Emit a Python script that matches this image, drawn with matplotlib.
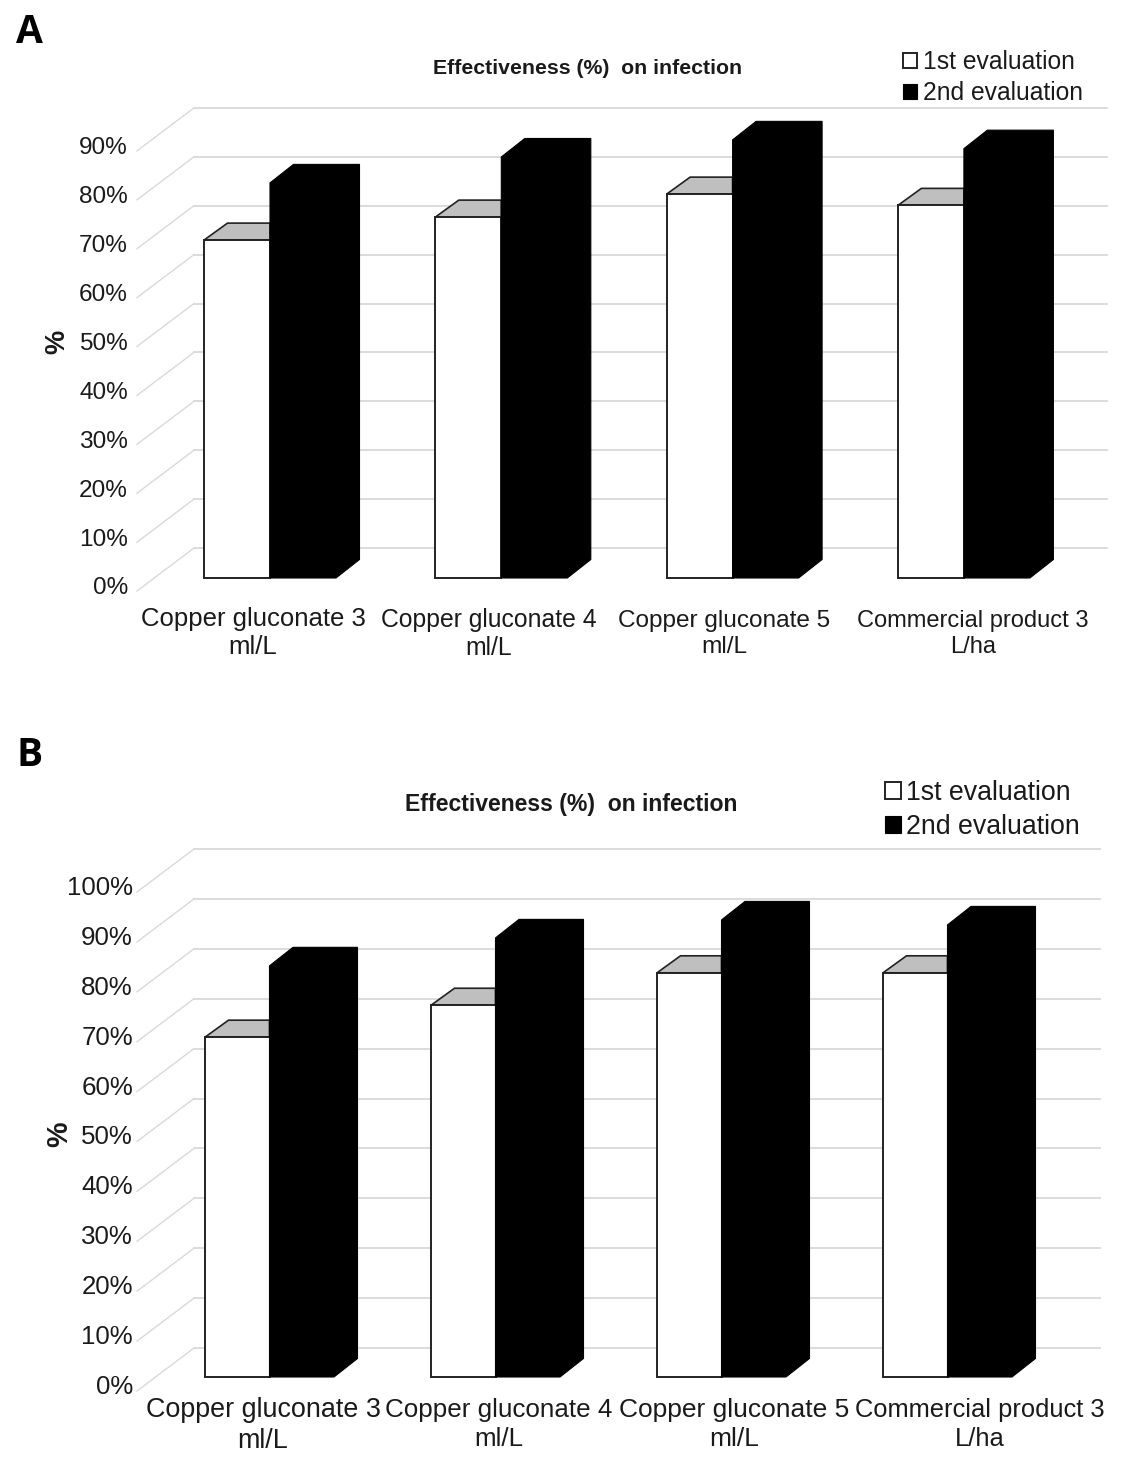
import matplotlib
matplotlib.use("Agg")
import matplotlib.pyplot as plt
from matplotlib.patches import Patch, Polygon
from matplotlib.transforms import ScaledTranslation

plt.rcParams['font.family'] = ['Liberation Sans', 'DejaVu Sans']

W, H, DPI = 1144, 1458, 100

categories = ["Copper gluconate 3\nml/L", "Copper gluconate 4\nml/L",
              "Copper gluconate 5\nml/L", "Commercial product 3\nL/ha"]
series_names = ["1st evaluation", "2nd evaluation"]
title_text = "Effectiveness (%)  on infection"

a_first = [69.1, 73.8, 78.5, 76.2]
a_second = [80.8, 86.1, 89.6, 87.8]
a_ticks = [0, 10, 20, 30, 40, 50, 60, 70, 80, 90]

b_first = [68.1, 74.5, 81.0, 81.0]
b_second = [82.4, 88.0, 91.6, 90.6]
b_ticks = [0, 10, 20, 30, 40, 50, 60, 70, 80, 90, 100]


def panel(letter, letter_xy, first, second, ticks, base, unit, x0, spacing, bw,
          wall, grid_right, fs_tick, fs_cat, fs_leg, fs_title, title_xy, ylabel_xy,
          label_px, label_y, label_nudge, label_ls, legend_xy, legend_gap, left_px, top_px,
          tick_shift):
    # Data x = category index, data y = percent
    bottom_px = base + 20
    ax = fig.add_axes([left_px / W, 1 - bottom_px / H, (W - left_px) / W, (bottom_px - top_px) / H])
    ax.set_xlim((left_px - x0) / spacing, (W - x0) / spacing)
    ax.set_ylim(-(bottom_px - base) / unit, (base - top_px) / unit)
    for s in ax.spines.values():
        s.set_visible(False)
    ax.patch.set_alpha(0)

    px = lambda p: p / spacing      # horizontal pixels -> data
    py = lambda p: p / unit         # vertical pixels -> data
    w = px(bw)

    # Back wall gridlines with receding floor segments
    for t in ticks:
        yb = t + py(wall)
        ax.plot([px(137 - x0), px(194 - x0)], [yb - py(43), yb], color='#d9d9d9', lw=1.0,
                zorder=1, clip_on=False)
        ax.plot([px(194 - x0), px(grid_right - x0)], [yb, yb], color='#d9d9d9', lw=1.3,
                zorder=1, clip_on=False)

    dx, dyw, dyb = px(23.5), py(17), py(18.5)
    for i, (f, s) in enumerate(zip(first, second)):
        # first series: gray top, white front
        ax.add_patch(Polygon([(i, f), (i + dx, f + dyw), (i + w, f + dyw), (i + w, f)],
                             closed=True, fc='#bfbfbf', ec='#222222', lw=1.2, zorder=3))
        ax.bar(i, f, width=w, align='edge', color='white', edgecolor='#222222',
               linewidth=1.4, zorder=4)
        # second series: front + top + side in one silhouette
        x1 = i + w
        x2 = x1 + w
        ax.add_patch(Polygon([(x1, 0), (x1, s), (x1 + dx, s + dyb), (x2 + dx, s + dyb),
                              (x2 + dx, dyb), (x2, 0)],
                             closed=True, fc='black', ec='black', lw=0.8, zorder=5))

    # Axis ticks and labels
    ax.set_yticks(ticks)
    ax.set_yticklabels([f"{t}%" for t in ticks], fontsize=fs_tick, color='#1a1a1a')
    ax.tick_params(axis='y', length=0, pad=0)
    shift = ScaledTranslation(0, -tick_shift / DPI, fig.dpi_scale_trans)
    for lab in ax.get_yticklabels():
        lab.set_transform(lab.get_transform() + shift)

    ax.set_xticks([(c - x0) / spacing for c in label_px])
    ax.set_xticklabels(categories, color='#1a1a1a', linespacing=label_ls)
    ax.tick_params(axis='x', length=0, pad=0)
    for lab, fs, nudge in zip(ax.get_xticklabels(), fs_cat, label_nudge):
        shift_x = ScaledTranslation(0, -(label_y + nudge - bottom_px) / DPI, fig.dpi_scale_trans)
        lab.set_fontsize(fs)
        lab.set_transform(lab.get_transform() + shift_x)
        lab.set_verticalalignment('top')

    # Figure-level text in pixel coordinates
    fig.text(letter_xy[0] / W, 1 - letter_xy[1] / H, letter, family='Open Sans',
             fontweight='bold', fontsize=28, color='black', va='baseline', ha='left')
    fig.text(title_xy[0] / W, 1 - title_xy[1] / H, title_text, fontsize=fs_title,
             fontweight='bold', color='#1a1a1a', ha='center', va='center')
    fig.text(ylabel_xy[0] / W, 1 - ylabel_xy[1] / H, "%", fontsize=fs_tick + 2, fontweight='bold',
             rotation=90, color='#1a1a1a', ha='center', va='center')

    handles = [Patch(fc='white', ec='#222222', lw=1.4), Patch(fc='black', ec='black', lw=0.8)]
    fig.legend(handles, series_names, loc='upper left',
               bbox_to_anchor=(legend_xy[0] / W, 1 - legend_xy[1] / H),
               frameon=False, fontsize=fs_leg, handlelength=0.58, handleheight=0.58,
               handletextpad=0.22, labelspacing=legend_gap, borderpad=0, borderaxespad=0,
               labelcolor='#1a1a1a')


fig = plt.figure(figsize=(W / DPI, H / DPI), dpi=DPI, facecolor='white')

panel("A", (16, 43), a_first, a_second, a_ticks, base=578, unit=48.9 / 10, x0=204, spacing=231.3,
      bw=66, wall=30, grid_right=1107, fs_tick=17.6, fs_cat=[18.5, 17.8, 17.6, 17.0], fs_leg=17.7,
      fs_title=15.3, title_xy=(588, 68), ylabel_xy=(57, 342), label_px=[253, 489, 724, 973],
      label_y=605, label_nudge=[2, 3, 5, 5], label_ls=1.22, legend_xy=(903, 50), legend_gap=0.3,
      left_px=128, top_px=90, tick_shift=8)

panel("B", (17, 766), b_first, b_second, b_ticks, base=1377, unit=49.9 / 10, x0=205, spacing=226,
      bw=64.5, wall=29, grid_right=1100, fs_tick=18.6, fs_cat=[19.4, 18.7, 19.0, 18.4], fs_leg=19.3,
      fs_title=16.6, title_xy=(571, 804), ylabel_xy=(59, 1134), label_px=[263, 499, 734, 980],
      label_y=1396, label_nudge=[1, 2, 2, 2], label_ls=1.25, legend_xy=(885, 780), legend_gap=0.3,
      left_px=133, top_px=830, tick_shift=7.5)

fig.savefig("out.png", dpi=DPI, facecolor='white')
